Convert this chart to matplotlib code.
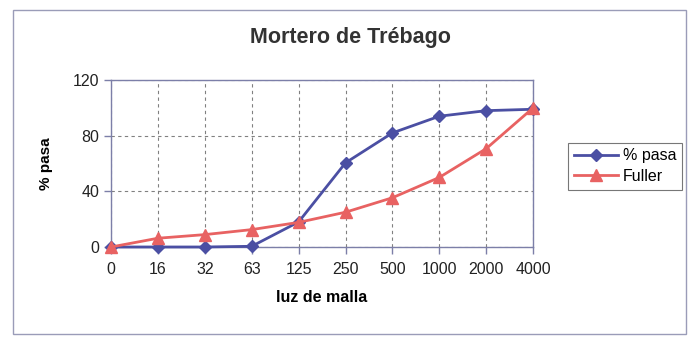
import matplotlib.pyplot as plt
from matplotlib.patches import Rectangle

# Curva granulométrica del mortero frente a la curva de Fuller
luz_malla = ["0", "16", "32", "63", "125", "250", "500", "1000", "2000", "4000"]
pasa = [0, 0, 0, 0.5, 18, 60.5, 82, 94, 98, 99]
fuller = [0, 6.3, 8.9, 12.5, 17.7, 25, 35.4, 50, 70.7, 100]

azul = "#4b4fa3"
rojo = "#e86262"
marco = "#7c7fa8"

plt.rcParams['font.family'] = ['Liberation Sans', 'DejaVu Sans']

fig = plt.figure(figsize=(7, 3.5), dpi=100)
ax = fig.add_axes([0.1586, 0.2943, 0.603, 0.477])

ax.plot(luz_malla, pasa, color=azul, lw=2, marker="D", markersize=6,
        label="% pasa", zorder=3, clip_on=False)
ax.plot(luz_malla, fuller, color=rojo, lw=2, marker="^", markersize=8,
        label="Fuller", zorder=3, clip_on=False)

ax.set_xlim(0, len(luz_malla) - 1)
ax.set_ylim(0, 120)
ax.set_yticks([0, 40, 80, 120])

ax.grid(True, color="#808080", lw=0.8, linestyle=(0, (3, 3)))
ax.set_axisbelow(True)
for s in ax.spines.values():
    s.set_color(marco)
    s.set_linewidth(1.0)
ax.tick_params(axis="both", colors=marco, labelcolor="#222222",
               labelsize=11.5, length=5, width=1)
ax.tick_params(axis="x", pad=6)

ax.set_xlabel("luz de malla", fontsize=11.5, fontweight="bold", labelpad=9)
ax.set_ylabel("% pasa", fontsize=11, fontweight="bold", labelpad=14)

fig.text(0.5, 0.893, "Mortero de Trébago", ha="center", va="center",
         fontsize=15.5, fontweight="bold", color="#333333")

leg = fig.legend(loc="center", bbox_to_anchor=(0.893, 0.525), fontsize=11.5,
                 frameon=True, fancybox=False, edgecolor="#555555",
                 handlelength=2.8, borderpad=0.35, labelspacing=0.35,
                 handletextpad=0.3)
leg.get_frame().set_linewidth(0.8)

# marco exterior del gráfico
fig.patches.append(Rectangle((0.0186, 0.0457), 0.961, 0.926,
                             transform=fig.transFigure, fill=False,
                             edgecolor="#9a9cb8", lw=1))

fig.savefig("out.png", dpi=100)
